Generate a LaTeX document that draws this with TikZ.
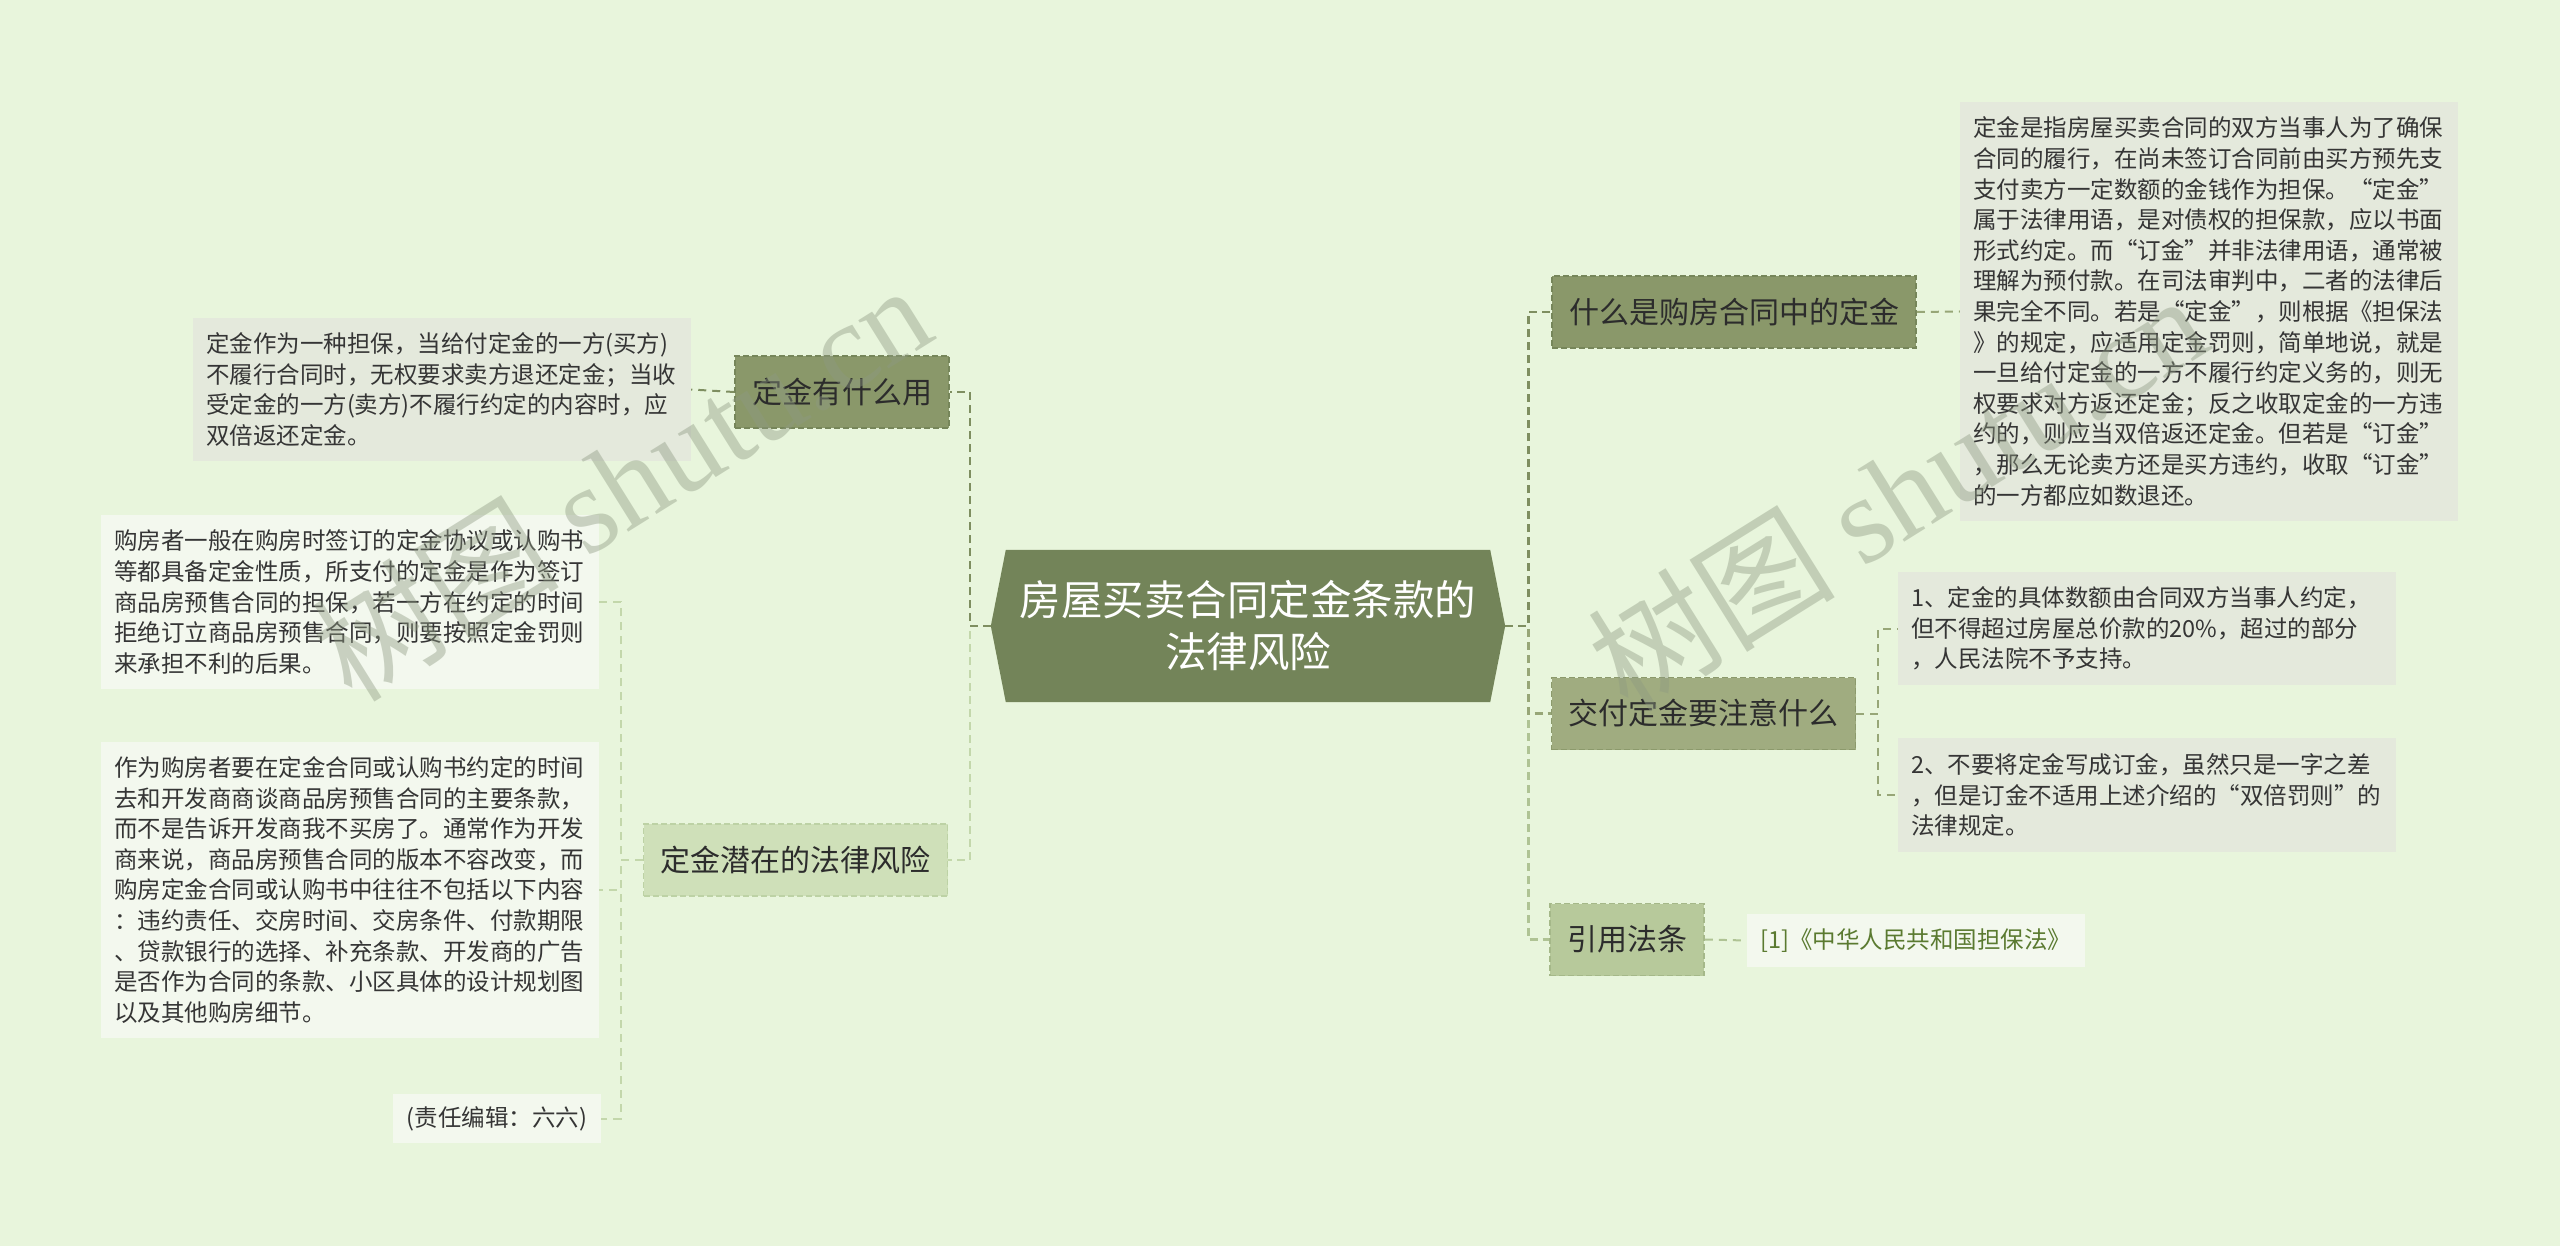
\documentclass[tikz,border=0pt]{standalone}
\usepackage{fontspec}
\setmainfont{Noto Sans CJK SC}
\newfontfamily\wmlatin{Liberation Serif}
\newfontfamily\wmcjk{Noto Sans CJK SC}
\usetikzlibrary{backgrounds}
\definecolor{bg}{HTML}{E8F5DC}
\definecolor{rootc}{HTML}{738459}
\definecolor{bdark}{HTML}{8A986A}
\definecolor{bdarkline}{HTML}{76865A}
\definecolor{bmid}{HTML}{A0AC80}
\definecolor{bmidline}{HTML}{8C9A6C}
\definecolor{bref}{HTML}{B7C99B}
\definecolor{brefline}{HTML}{A5B889}
\definecolor{blight}{HTML}{CFE0B9}
\definecolor{blightline}{HTML}{BDD2A5}
\definecolor{leafgray}{HTML}{E4E9DC}
\definecolor{leafwhite}{HTML}{F3F8EE}
\definecolor{txt}{HTML}{353535}
\definecolor{btxt}{HTML}{2C2C2C}
\definecolor{reftxt}{HTML}{5A7A30}
\definecolor{edark}{HTML}{7E8E60}
\definecolor{emid}{HTML}{97A677}
\definecolor{eref}{HTML}{AFC394}
\definecolor{elight}{HTML}{C3D7AB}
\definecolor{wm}{HTML}{8E9A82}
\begin{document}
\begin{tikzpicture}[x=1pt,y=-1pt,
  rootn/.style={font=\fontsize{41.5pt}{52pt}\selectfont, text=white, align=center, inner sep=0pt},
  branch/.style={font=\fontsize{30pt}{36pt}\selectfont, text=btxt, inner xsep=17pt, inner ysep=0pt, minimum height=72pt, dashed, dash pattern=on 6pt off 3pt, line width=1.6pt},
  leaf/.style={font=\fontsize{23.5pt}{30.6pt}\selectfont, text=txt, align=left, text width=472pt, inner xsep=13pt, inner ysep=15pt},
  small/.style={font=\fontsize{23.5pt}{30.6pt}\selectfont, text=txt, inner xsep=14pt, inner ysep=0pt},
  conn/.style={dashed, dash pattern=on 8pt off 5pt, line width=2.6pt},
  subconn/.style={dashed, dash pattern=on 8pt off 6pt, line width=2pt},
  wmark/.style={text=wm, opacity=0.42, rotate=32, anchor=base west, inner sep=0pt, font=\fontsize{124pt}{124pt}\selectfont}]
\useasboundingbox (0,0) rectangle (2560,1246);

% root
\node[rootn, minimum width=514pt, minimum height=152pt] (root) at (1248,626) {房屋买卖合同定金条款的\\法律风险};

% branches
\node[branch, fill=bdark, draw=bdarkline] (use) at (842,392) {定金有什么用};
\node[branch, fill=blight, draw=blightline] (risk) at (795.5,860) {定金潜在的法律风险};
\node[branch, fill=bdark, draw=bdarkline] (what) at (1734,312) {什么是购房合同中的定金};
\node[branch, fill=bmid, draw=bmidline] (pay) at (1703.5,713.5) {交付定金要注意什么};
\node[branch, fill=bref, draw=brefline] (law) at (1627,939.5) {引用法条};

% leaves
\node[leaf, fill=leafgray] (l1) at (442,389.5) {定金作为一种担保，当给付定金的一方(买方)\\不履行合同时，无权要求卖方退还定金；当收\\受定金的一方(卖方)不履行约定的内容时，应\\双倍返还定金。};
\node[leaf, fill=leafwhite] (l2) at (350,602) {购房者一般在购房时签订的定金协议或认购书\\等都具备定金性质，所支付的定金是作为签订\\商品房预售合同的担保，若一方在约定的时间\\拒绝订立商品房预售合同，则要按照定金罚则\\来承担不利的后果。};
\node[leaf, fill=leafwhite] (l3) at (350,890) {作为购房者要在定金合同或认购书约定的时间\\去和开发商商谈商品房预售合同的主要条款，\\而不是告诉开发商我不买房了。通常作为开发\\商来说，商品房预售合同的版本不容改变，而\\购房定金合同或认购书中往往不包括以下内容\\：违约责任、交房时间、交房条件、付款期限\\、贷款银行的选择、补充条款、开发商的广告\\是否作为合同的条款、小区具体的设计规划图\\以及其他购房细节。};
\node[small, fill=leafwhite, minimum width=204pt, minimum height=49pt] (l4) at (497,1118.5) {(责任编辑：六六)};

\node[leaf, fill=leafgray] (r1) at (2209,311.5) {定金是指房屋买卖合同的双方当事人为了确保\\合同的履行，在尚未签订合同前由买方预先支\\支付卖方一定数额的金钱作为担保。“定金”\\属于法律用语，是对债权的担保款，应以书面\\形式约定。而“订金”并非法律用语，通常被\\理解为预付款。在司法审判中，二者的法律后\\果完全不同。若是“定金”，则根据《担保法\\》的规定，应适用定金罚则，简单地说，就是\\一旦给付定金的一方不履行约定义务的，则无\\权要求对方返还定金；反之收取定金的一方违\\约的，则应当双倍返还定金。但若是“订金”\\，那么无论卖方还是买方违约，收取“订金”\\的一方都应如数退还。};
\node[leaf, fill=leafgray] (r2) at (2147,628.5) {1、定金的具体数额由合同双方当事人约定，\\但不得超过房屋总价款的20\%，超过的部分\\，人民法院不予支持。};
\node[leaf, fill=leafgray] (r3) at (2147,795) {2、不要将定金写成订金，虽然只是一字之差\\，但是订金不适用上述介绍的“双倍罚则”的\\法律规定。};
\node[small, fill=leafwhite, text=reftxt, minimum height=53pt] (r4) at (1916,940.5) {[1]《中华人民共和国担保法》};

% background and root shape
\begin{scope}[on background layer]
\fill[bg] (0,0) rectangle (2560,1246);
\fill[rootc] (root.west) -- ([xshift=15pt]root.north west) -- ([xshift=-15pt]root.north east) -- (root.east) -- ([xshift=-15pt]root.south east) -- ([xshift=15pt]root.south west) -- cycle;
\end{scope}

% root connectors
\draw[conn, draw=elight] (root.west) -- ++(-21,0) |- (risk.east);
\draw[conn, draw=edark] (root.west) -- ++(-21,0) |- (use.east);
\draw[conn, draw=eref] (root.east) -- ++(23,0) |- (law.west);
\draw[conn, draw=emid] (root.east) -- ++(23,0) |- (pay.west);
\draw[conn, draw=edark] (root.east) -- ++(23,0) |- (what.west);

% leaf connectors
\draw[subconn, draw=edark] (use.west) -- (l1.east);
\draw[subconn, draw=elight] (risk.west) -- ++(-22,0) |- (l2.east);
\draw[subconn, draw=elight] (risk.west) -- ++(-22,0) |- (l3.east);
\draw[subconn, draw=elight] (risk.west) -- ++(-22,0) |- (l4.east);
\draw[subconn, draw=emid] (what.east) -- (r1.west);
\draw[subconn, draw=emid] (pay.east) -- ++(22,0) |- (r2.west);
\draw[subconn, draw=emid] (pay.east) -- ++(22,0) |- (r3.west);
\draw[subconn, draw=eref] (law.east) -- (r4.west);

% watermarks
\node[wmark] (wm1) at (352,705) {\wmcjk 树图 \wmlatin shutu.cn};
\node[wmark] (wm2) at (1628,715) {\wmcjk 树图 \wmlatin shutu.cn};
\end{tikzpicture}
\end{document}
